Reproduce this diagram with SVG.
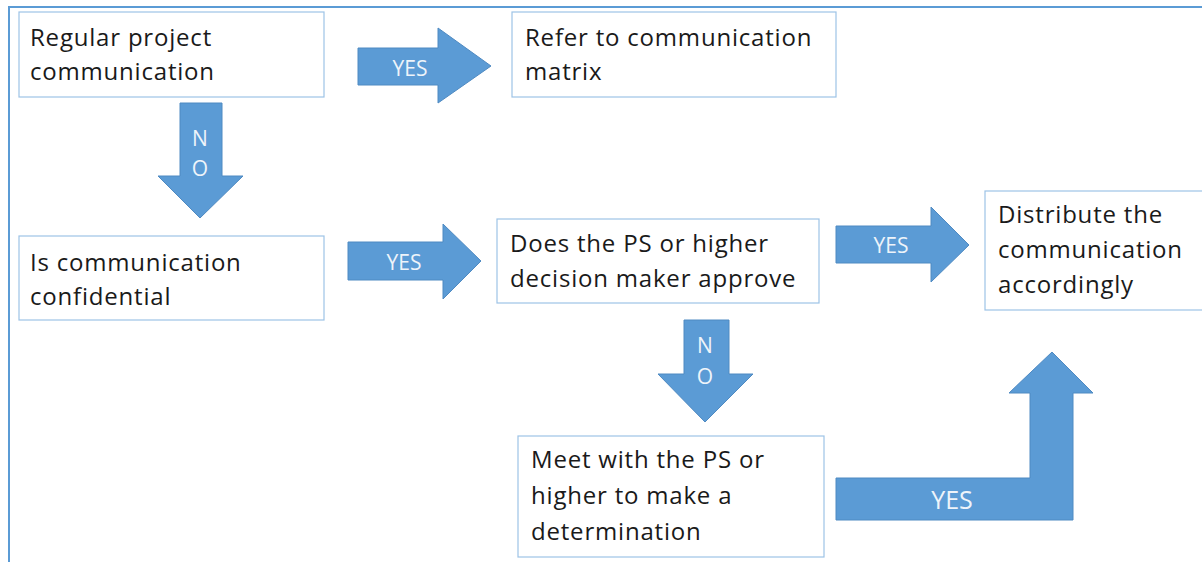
<svg xmlns="http://www.w3.org/2000/svg" width="1202" height="562" viewBox="0 0 1202 562">
<style>
.box{fill:#ffffff;stroke:#9dc3e6;stroke-width:1.2}
.txt{font-family:"Open Sans","Liberation Sans",sans-serif;font-size:24px;fill:#1a1a1a;letter-spacing:0.8px}
.arr{fill:#5b9bd5;stroke:#4f8ac2;stroke-width:1}
.lbl{font-family:"Open Sans","Liberation Sans",sans-serif;font-size:21px;fill:#eef4fa;text-anchor:middle;dominant-baseline:central}
.frame{fill:none;stroke:#5b9bd5;stroke-width:2}
</style>
<rect x="0" y="0" width="1202" height="562" fill="#ffffff"/>
<rect class="frame" x="9" y="7" width="1210" height="570"/>
<g id="connectors">
<g id="c1">
<polygon class="arr" points="358,48 438,48 438,28 491,66 438,103 438,85 358,85"/>
<text class="lbl" x="410" y="68">YES</text>
</g>
<g id="c2">
<polygon class="arr" points="180,103 222,103 222,176 243,176 200,218 158,176 180,176"/>
<text class="lbl" x="200" y="138">N</text>
<text class="lbl" x="200" y="168">O</text>
</g>
<g id="c3">
<polygon class="arr" points="348,242 443,242 443,224 481,261 443,299 443,280 348,280"/>
<text class="lbl" x="404" y="262">YES</text>
</g>
<g id="c4">
<polygon class="arr" points="836,226 931,226 931,207 969,245 931,282 931,263 836,263"/>
<text class="lbl" x="891" y="245">YES</text>
</g>
<g id="c5">
<polygon class="arr" points="684,320 729,320 729,374 753,374 705,422 658,374 684,374"/>
<text class="lbl" x="705" y="345">N</text>
<text class="lbl" x="705" y="376">O</text>
</g>
<g id="c6">
<polygon class="arr" points="836,478 1030,478 1030,393 1009,393 1052,352 1093,393 1073,393 1073,520 836,520"/>
<text class="lbl" x="952" y="499" style="font-size:25px">YES</text>
</g>
</g>
<g id="n1">
<rect class="box" x="19" y="12" width="305" height="85"/>
<text class="txt" x="30" y="46">Regular project</text>
<text class="txt" x="30" y="80">communication</text>
</g>
<g id="n2">
<rect class="box" x="512" y="12" width="324" height="85"/>
<text class="txt" x="525" y="46">Refer to communication</text>
<text class="txt" x="525" y="80">matrix</text>
</g>
<g id="n3">
<rect class="box" x="19" y="236" width="305" height="84"/>
<text class="txt" x="30" y="271">Is communication</text>
<text class="txt" x="30" y="305">confidential</text>
</g>
<g id="n4">
<rect class="box" x="497" y="219" width="322" height="84"/>
<text class="txt" x="510" y="252">Does the PS or higher</text>
<text class="txt" x="510" y="287">decision maker approve</text>
</g>
<g id="n5">
<rect class="box" x="518" y="436" width="306" height="121"/>
<text class="txt" x="531" y="468">Meet with the PS or</text>
<text class="txt" x="531" y="504">higher to make a</text>
<text class="txt" x="531" y="540">determination</text>
</g>
<g id="n6">
<rect class="box" x="985" y="191" width="230" height="119"/>
<text class="txt" x="998" y="223">Distribute the</text>
<text class="txt" x="998" y="258">communication</text>
<text class="txt" x="998" y="293">accordingly</text>
</g>
</svg>
